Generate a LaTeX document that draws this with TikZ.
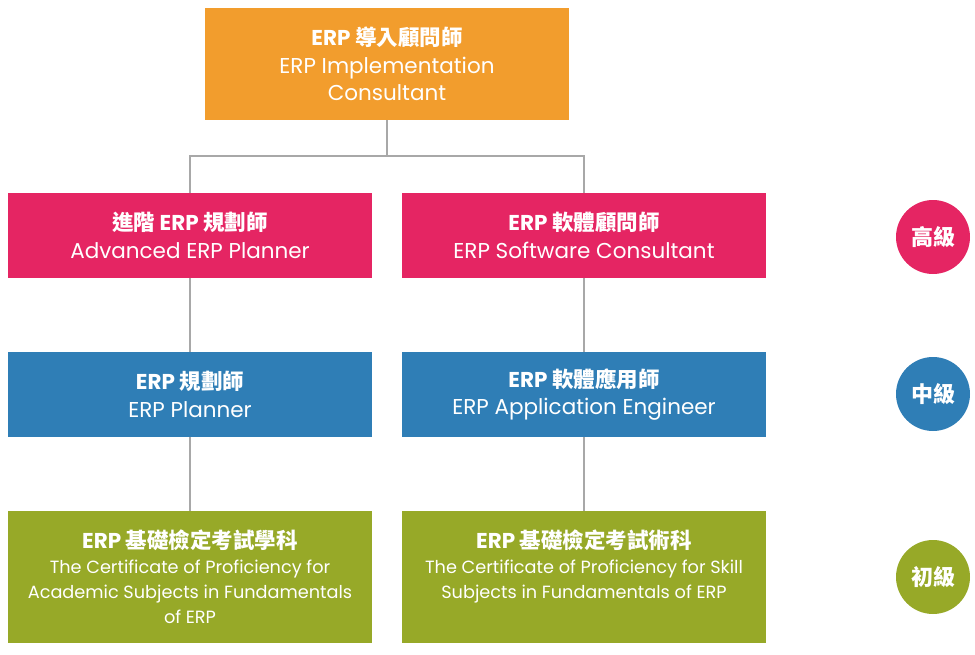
\documentclass[tikz,border=0pt]{standalone}
\usepackage{fontspec}
\setmainfont{Poppins}
\newfontfamily\cjk{Noto Sans CJK TC}
\definecolor{corange}{HTML}{F29D2D}
\definecolor{cpink}{HTML}{E52563}
\definecolor{cblue}{HTML}{2F7EB6}
\definecolor{cgreen}{HTML}{97A928}
\definecolor{cline}{HTML}{A8A8A8}
\begin{document}
\begin{tikzpicture}[x=1pt,y=-1pt,
  box/.style={rectangle,minimum width=364pt,minimum height=85pt,inner sep=0pt,text=white,align=center,font=\fontsize{21.5}{27.5}\selectfont},
  smallbox/.style={box,font=\fontsize{17.7}{25}\selectfont},
  lvl/.style={circle,minimum size=74pt,inner sep=0pt,text=white,font=\cjk\bfseries\fontsize{22}{24}\selectfont},
  conn/.style={draw=cline,line width=2.6pt}]
\useasboundingbox (0,0) rectangle (975,654);
\node[box,fill=corange,minimum height=112pt] (top) at (387,64)
  {\textbf{ERP {\cjk 導入顧問師}}\\ERP Implementation\\Consultant};
\node[box,fill=cpink] (p1) at (190,235.5) {\textbf{{\cjk 進階} ERP {\cjk 規劃師}}\\Advanced ERP Planner};
\node[box,fill=cpink] (p2) at (584,235.5) {\textbf{ERP {\cjk 軟體顧問師}}\\ERP Software Consultant};
\node[box,fill=cblue] (b1) at (190,394.5) {\textbf{ERP {\cjk 規劃師}}\\ERP Planner};
\node[box,fill=cblue] (b2) at (584,394.5) {\textbf{ERP {\cjk 軟體應用師}}\\ERP Application Engineer};
\node[smallbox,fill=cgreen,minimum height=132pt] (g1) at (190,577)
  {{\fontsize{21.5}{27}\selectfont\textbf{ERP {\cjk 基礎檢定考試學科}}}\\The Certificate of Proficiency for\\Academic Subjects in Fundamentals\\of ERP};
\node[smallbox,fill=cgreen,minimum height=132pt] (g2) at (584,577)
  {{\fontsize{21.5}{27}\selectfont\textbf{ERP {\cjk 基礎檢定考試術科}}}\\The Certificate of Proficiency for Skill\\Subjects in Fundamentals of ERP\\\mbox{}};
\node[lvl,fill=cpink] (l1) at (933,237) {高級};
\node[lvl,fill=cblue] (l2) at (933,394) {中級};
\node[lvl,fill=cgreen] (l3) at (933,577) {初級};
\coordinate (j) at (387,156);
\draw[conn] (top.south) -- (j);
\draw[conn] (p1.north) -- (p1.north |- j) -- (p2.north |- j) -- (p2.north);
\draw[conn] (p1.south) -- (b1.north);
\draw[conn] (p2.south) -- (b2.north);
\draw[conn] (b1.south) -- (g1.north);
\draw[conn] (b2.south) -- (g2.north);
\end{tikzpicture}
\end{document}
